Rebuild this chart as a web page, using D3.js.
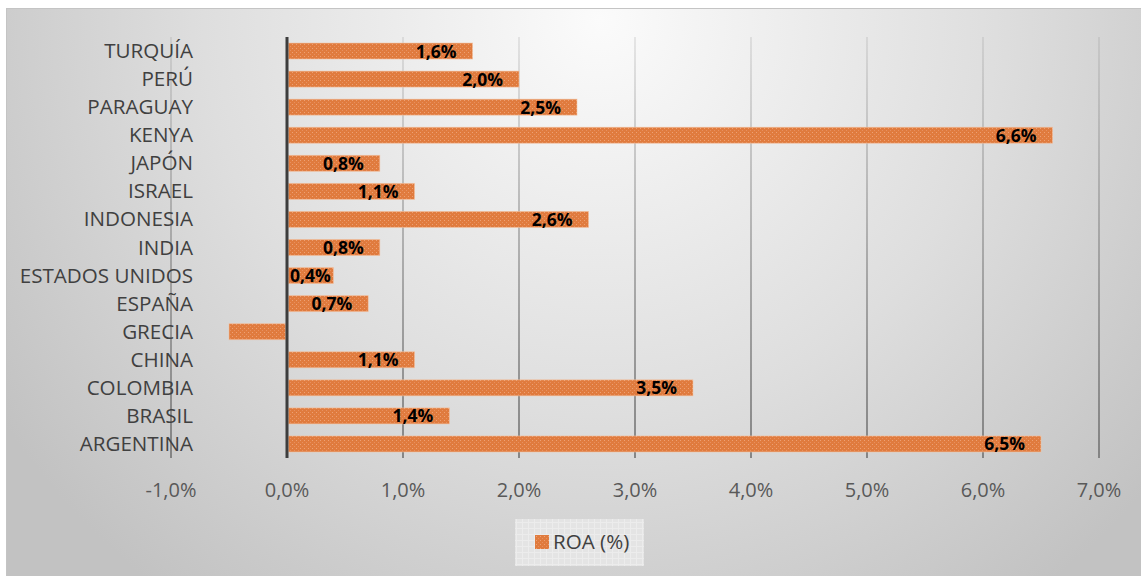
<!DOCTYPE html>
<html><head><meta charset="utf-8">
<script src="https://cdn.jsdelivr.net/npm/d3@7"></script>
<style>
html,body{margin:0;padding:0;background:#fff;}
svg{display:block;}
</style></head>
<body>
<svg id="chart" width="1141" height="576"></svg>
<script>
const categories = ["TURQUÍA","PERÚ","PARAGUAY","KENYA","JAPÓN","ISRAEL","INDONESIA","INDIA","ESTADOS UNIDOS","ESPAÑA","GRECIA","CHINA","COLOMBIA","BRASIL","ARGENTINA"];
const roaValues = [1.6, 2.0, 2.5, 6.6, 0.8, 1.1, 2.6, 0.8, 0.4, 0.7, -0.5, 1.1, 3.5, 1.4, 6.5];
const dataLabels = ["1,6%","2,0%","2,5%","6,6%","0,8%","1,1%","2,6%","0,8%","0,4%","0,7%",null,"1,1%","3,5%","1,4%","6,5%"];
const tickValues = [-1,0,1,2,3,4,5,6,7];
const tickLabels = ["-1,0%","0,0%","1,0%","2,0%","3,0%","4,0%","5,0%","6,0%","7,0%"];
const seriesName = "ROA (%)";

const svg = d3.select("#chart");
const W = 1141, H = 576;
const defs = svg.append("defs");

const bg = defs.append("radialGradient").attr("id","bgGrad")
  .attr("gradientUnits","userSpaceOnUse").attr("cx",600).attr("cy",20).attr("r",720);
bg.append("stop").attr("offset","0").attr("stop-color","#fbfbfb");
bg.append("stop").attr("offset","0.55").attr("stop-color","#dedede");
bg.append("stop").attr("offset","1").attr("stop-color","#c2c2c2");

const gg = defs.append("linearGradient").attr("id","gridGrad")
  .attr("gradientUnits","userSpaceOnUse").attr("x1",0).attr("y1",37).attr("x2",0).attr("y2",458);
gg.append("stop").attr("offset","0").attr("stop-color","#777").attr("stop-opacity",0.15);
gg.append("stop").attr("offset","1").attr("stop-color","#777").attr("stop-opacity",0.85);

const pat = defs.append("pattern").attr("id","barPat").attr("patternUnits","userSpaceOnUse")
  .attr("width",4).attr("height",4);
pat.append("rect").attr("width",4).attr("height",4).attr("fill","#e07b3e");
pat.append("rect").attr("x",0).attr("y",0).attr("width",1).attr("height",1).attr("fill","#eea174");
pat.append("rect").attr("x",2).attr("y",2).attr("width",1).attr("height",1).attr("fill","#e89060");

const lp = defs.append("pattern").attr("id","legPat").attr("patternUnits","userSpaceOnUse")
  .attr("width",6).attr("height",6);
lp.append("rect").attr("width",6).attr("height",6).attr("fill","#e4e4e4");
lp.append("rect").attr("width",6).attr("height",1).attr("fill","#ececec");
lp.append("rect").attr("width",1).attr("height",6).attr("fill","#ececec");

svg.append("rect").attr("x",0).attr("y",0).attr("width",W).attr("height",H).attr("fill","#fff");
svg.append("rect").attr("x",6.5).attr("y",8.5).attr("width",W).attr("height",H)
  .attr("fill","url(#bgGrad)").attr("stroke","#c4c4c4").attr("stroke-width",1);

const x = d3.scaleLinear().domain([-1,7]).range([171,1099]);
const y = d3.scaleBand().domain(categories).range([37,458]).padding(0);
const barH = y.bandwidth()*0.57;

svg.append("g").selectAll("line").data(tickValues.filter(v=>v!==0)).join("line")
  .attr("x1",d=>x(d)).attr("x2",d=>x(d)).attr("y1",37).attr("y2",458)
  .attr("stroke","url(#gridGrad)").attr("stroke-width",2);

const labelFont = "'Open Sans', sans-serif";
svg.append("g").selectAll("text").data(categories).join("text")
  .attr("x",193).attr("y",d=>y(d)+y.bandwidth()/2+7)
  .attr("text-anchor","end").attr("font-family",labelFont).attr("font-size",20.6)
  .attr("fill","#404040").text(d=>d);

const rows = categories.map((c,i)=>({c, v:roaValues[i], lab:dataLabels[i]}));
svg.append("g").selectAll("rect").data(rows).join("rect")
  .attr("x",d=>Math.min(x(d.v),x(0))+(d.v>=0?1.5:0))
  .attr("y",d=>y(d.c)+(y.bandwidth()-barH)/2)
  .attr("width",d=>Math.abs(x(d.v)-x(0))-1.5)
  .attr("height",barH)
  .attr("fill","url(#barPat)")
  .attr("stroke","#f3c3a3").attr("stroke-width",0.8).attr("stroke-opacity",0.7);

svg.append("line").attr("x1",x(0)).attr("x2",x(0)).attr("y1",37).attr("y2",458)
  .attr("stroke","#3d3d3d").attr("stroke-width",3);

const dl = svg.append("g").selectAll("text").data(rows.filter(d=>d.lab)).join("text")
  .attr("y",d=>y(d.c)+y.bandwidth()/2+6.5)
  .attr("font-family",labelFont).attr("font-size",17.5).attr("font-weight","bold")
  .attr("fill","#000").text(d=>d.lab);
dl.each(function(d){
  const w = this.getComputedTextLength();
  let left = x(d.v) - 16 - w;
  if (left < x(0)+3) left = x(0)+3;
  d3.select(this).attr("x",left);
});

svg.append("g").selectAll("text").data(tickValues).join("text")
  .attr("x",d=>x(d)).attr("y",496.5).attr("text-anchor","middle")
  .attr("font-family",labelFont).attr("font-size",20).attr("fill","#595959")
  .text((d,i)=>tickLabels[i]);

svg.append("rect").attr("x",515).attr("y",519).attr("width",129).attr("height",47).attr("fill","url(#legPat)");
svg.append("rect").attr("x",535).attr("y",535).attr("width",14).attr("height",14).attr("fill","url(#barPat)");
svg.append("text").attr("x",553).attr("y",549).attr("font-family",labelFont).attr("font-size",20.6)
  .attr("fill","#404040").text(seriesName);
</script>
</body></html>
